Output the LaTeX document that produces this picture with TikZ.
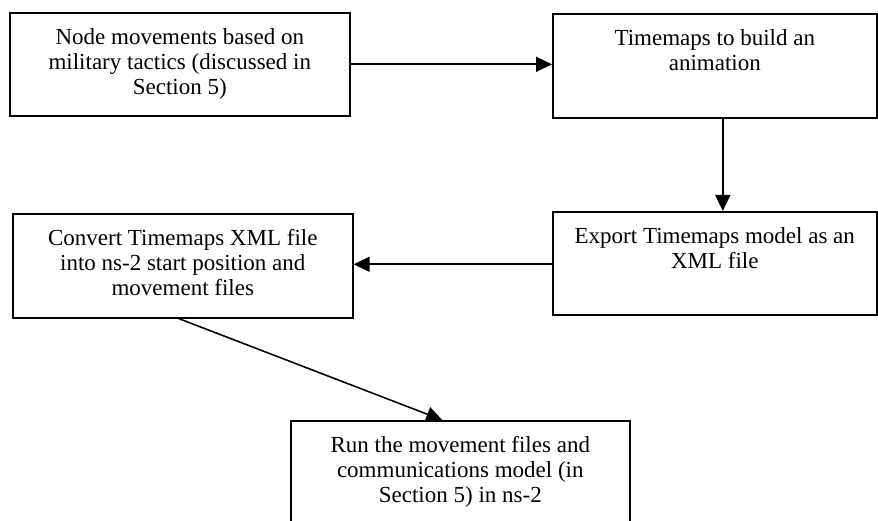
\documentclass[tikz,border=0pt]{standalone}
\usepackage{fontspec}
\setmainfont{Liberation Serif}
\usetikzlibrary{arrows.meta}

% top aligned text inside a box of fixed size
\newcommand{\boxtext}[3]{\parbox[c][#2][t]{#1}{\centering\vspace*{16pt}#3}}

\begin{document}
\begin{tikzpicture}[
    stepbox/.style={draw, line width=1.6pt, anchor=north west, inner sep=0pt,
                    font={\fontsize{23pt}{25pt}\selectfont}},
    flow/.style={line width=1.6pt, -{Triangle[length=16pt,width=15pt]}}
  ]

  \useasboundingbox (0,0) rectangle (878pt,-521pt);
  \clip (0,0) rectangle (878pt,-521pt);

  \node[stepbox] (tactics) at (9pt,-12pt)
        {\boxtext{340pt}{103pt}{Node movements based on\\military tactics (discussed in\\Section 5)}};
  \node[stepbox] (anim) at (552pt,-13pt)
        {\boxtext{324pt}{104pt}{Timemaps to build an\\animation}};
  \node[stepbox] (export) at (552pt,-211pt)
        {\boxtext{324pt}{103pt}{Export Timemaps model as an\\XML file}};
  \node[stepbox] (convert) at (12pt,-213pt)
        {\boxtext{340pt}{104pt}{Convert Timemaps XML file\\into ns-2 start position and\\movement files}};
  \node[stepbox] (run) at (290pt,-420pt)
        {\boxtext{339pt}{140pt}{Run the movement files and\\communications model (in\\Section 5) in ns-2}};

  \draw[flow] (tactics.east) -- (tactics.east -| anim.west);
  \draw[flow] ([xshift=8pt]anim.south) -- ([xshift=8pt]anim.south |- export.north);
  \draw[flow] ([yshift=-1pt]export.west) -- ([yshift=-1pt]export.west -| convert.east);
  \draw[flow] ([xshift=-4pt]convert.south) -- ([xshift=-18pt]run.north);

\end{tikzpicture}
\end{document}
